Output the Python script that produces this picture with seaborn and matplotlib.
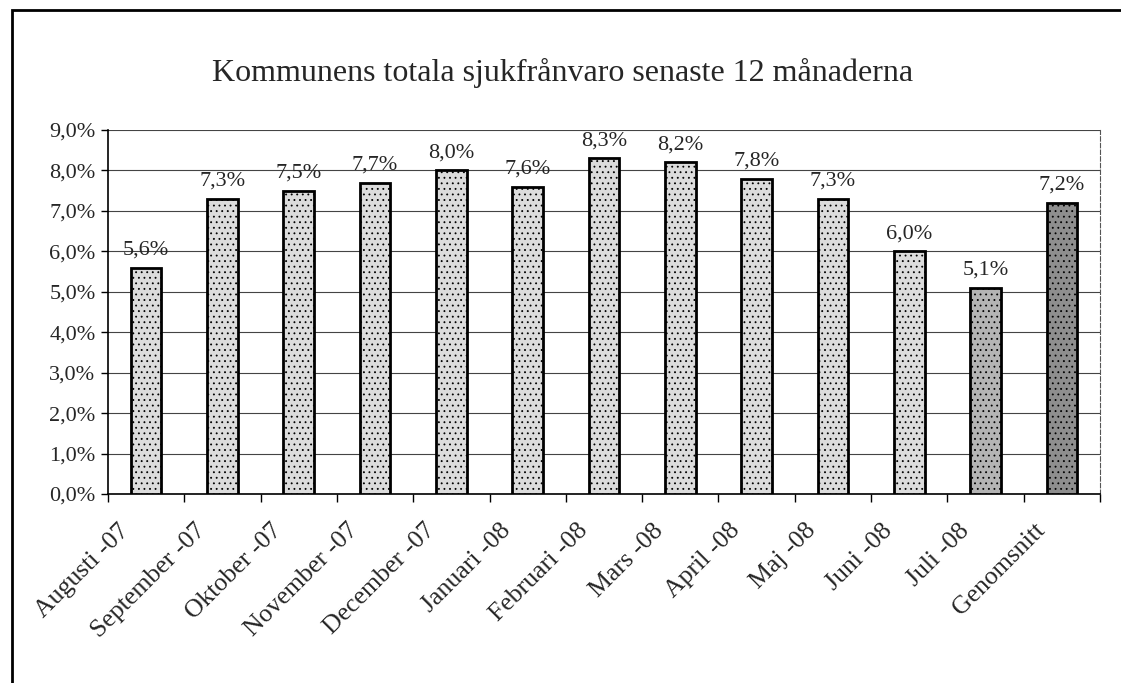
import matplotlib.pyplot as plt
import matplotlib.ticker as mticker
import matplotlib.transforms as mtransforms
from matplotlib.patches import Rectangle
import pandas as pd
import seaborn as sns

months = ['Augusti -07', 'September -07', 'Oktober -07', 'November -07', 'December -07',
          'Januari -08', 'Februari -08', 'Mars -08', 'April -08', 'Maj -08',
          'Juni -08', 'Juli -08', 'Genomsnitt']
sick_leave = [5.6, 7.3, 7.5, 7.7, 8.0, 7.6, 8.3, 8.2, 7.8, 7.3, 6.0, 5.1, 7.2]
bar_colors = ['#dcdcdc'] * 11 + ['#b4b4b4', '#8e8e8e']

df = pd.DataFrame({'Månad': months, 'Sjukfrånvaro': sick_leave})

sns.set_style('white')
plt.rcParams['font.family'] = ['Liberation Serif', 'DejaVu Serif']
plt.rcParams['hatch.color'] = '#666666'
plt.rcParams['hatch.linewidth'] = 0.6

fig = plt.figure(figsize=(11.21, 6.83), dpi=100)
ax = fig.add_axes([0.0963, 0.2767, 0.885, 0.533])

sns.barplot(data=df, x='Månad', y='Sjukfrånvaro', hue='Månad', palette=bar_colors,
            legend=False, width=0.4, edgecolor='black', linewidth=2, ax=ax, zorder=3)
for bar in ax.patches:
    bar.set_hatch('...')

for i, v in enumerate(sick_leave):
    ax.text(i, v + 0.2, f'{v:.1f}%'.replace('.', ','), ha='center', va='bottom', fontsize=16)

ax.set_ylim(0, 9)
ax.set_xlim(-0.5, len(months) - 0.5)
ax.yaxis.set_major_locator(mticker.MultipleLocator(1))
ax.yaxis.set_major_formatter(mticker.FuncFormatter(lambda y, _: f'{y:.1f}%'.replace('.', ',')))
ax.grid(axis='y', color='#444444', linewidth=0.8, zorder=0)
ax.set_axisbelow(True)

ax.set_xticks(range(len(months)))
ax.set_xticklabels(months, rotation=45, ha='right', va='center', rotation_mode='anchor', fontsize=18.5)
ax.set_xticks([i + 0.5 for i in range(-1, len(months))], minor=True)
ax.tick_params(axis='x', which='both', bottom=True)
ax.tick_params(axis='x', which='major', length=0, pad=24)
ax.tick_params(axis='x', which='minor', length=6, width=1, color='black', direction='out')
ax.tick_params(axis='y', left=True, length=5, width=1, color='black', direction='out',
               labelsize=16, pad=4)
shift = mtransforms.ScaledTranslation(-0.2, 0, fig.dpi_scale_trans)
for lbl in ax.get_xticklabels():
    lbl.set_transform(lbl.get_transform() + shift)

ax.set_xlabel('')
ax.set_ylabel('')
for side in ['left', 'bottom']:
    ax.spines[side].set_color('black')
    ax.spines[side].set_linewidth(1.2)
ax.spines['top'].set_visible(False)
ax.spines['right'].set_color('#555555')
ax.spines['right'].set_linewidth(0.8)
ax.spines['right'].set_linestyle((0, (4, 2)))

fig.text(0.502, 0.893, 'Kommunens totala sjukfrånvaro senaste 12 månaderna',
         ha='center', va='center', fontsize=23)

# outer chart frame, cut off at the right and bottom edges like the scan
fig.patches.append(Rectangle((0.0107, -0.05), 1.2, 1.035, transform=fig.transFigure,
                             fill=False, edgecolor='black', linewidth=2))

fig.savefig('out.png', dpi=100)
